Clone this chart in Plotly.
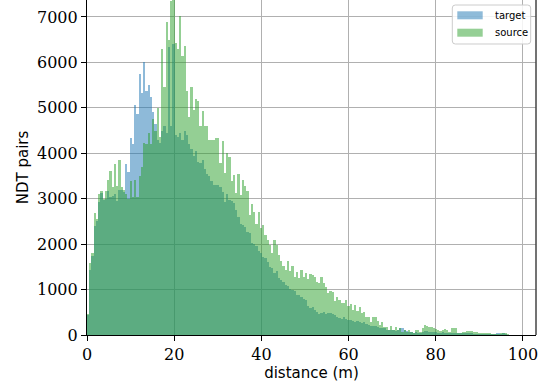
import numpy as np
import plotly.graph_objects as go

BIN_W = 0.515  # histogram bin width (m), 200 bins
N_BINS = 200

source = [
    460, 1585, 1800, 2680, 2550, 3100, 3170, 3000, 3170, 3410,
    3610, 3265, 3765, 3290, 3850, 3260, 3190, 3100, 3000, 3400,
    3040, 3410, 3040, 3500, 3705, 4220, 4200, 4440, 4200, 4750,
    4500, 5000, 4350, 6290, 5450, 6900, 6500, 7355, 7390, 6420,
    6300, 7020, 6150, 6370, 5370, 4800, 5450, 4945, 5200, 5140,
    4600, 4930, 4590, 4590, 4300, 4300, 4300, 4330, 4340, 3780,
    4270, 3570, 4000, 3925, 3380, 3530, 3130, 3540, 3080, 3415,
    3270, 3180, 2640, 2885, 2710, 2440, 2700, 2350, 2420, 2200,
    2090, 1980, 1810, 2090, 1980, 1760, 1620, 1520, 1420, 1620,
    1410, 1520, 1285, 1390, 1250, 1430, 1270, 1360, 1225, 1340,
    1320, 1280, 1175, 1150, 1270, 1150, 1050, 930, 975, 955,
    755, 840, 770, 695, 710, 770, 640, 680, 550, 660,
    535, 610, 475, 510, 390, 400, 290, 390, 390, 315,
    220, 290, 185, 170, 110, 200, 110, 170, 110, 145,
    70, 110, 70, 110, 70, 35, 110, 110, 70, 150,
    220, 200, 185, 170, 150, 125, 110, 95, 110, 125,
    110, 75, 150, 150, 150, 40, 50, 65, 75, 80,
    95, 80, 70, 60, 50, 50, 50, 40, 40, 40,
    15, 15, 10, 5, 30, 30, 30, 5, 0, 0,
    0, 0, 0, 0, 0, 0, 0, 0, 0, 0,
]

target = [
    430, 1420, 1740, 2390, 2500, 2935, 3130, 2970, 2990, 3170,
    3040, 3050, 3110, 2950, 3190, 3200, 3150, 3765, 3590, 4330,
    4205, 5060, 4865, 5745, 5325, 6000, 5370, 5500, 5245, 4915,
    4645, 4300, 4220, 4500, 4590, 4450, 6340, 4590, 6400, 4400,
    4350, 4450, 4300, 4500, 4400, 4200, 4100, 3950, 4050, 3800,
    3780, 3850, 3650, 3550, 3500, 3400, 3300, 3300, 3300, 3250,
    3150, 2935, 3100, 2970, 2950, 2900, 2750, 2600, 2450, 2420,
    2380, 2270, 2240, 2020, 2000, 1950, 1855, 1800, 1725, 1700,
    1600, 1505, 1480, 1375, 1400, 1245, 1220, 1175, 1100, 1080,
    1020, 1000, 960, 880, 880, 840, 800, 770, 640, 585,
    610, 550, 510, 455, 480, 500, 470, 480, 490, 470,
    440, 400, 380, 360, 400, 350, 330, 340, 300, 290,
    310, 280, 260, 290, 250, 220, 200, 190, 200, 170,
    160, 150, 150, 120, 110, 110, 100, 90, 110, 145,
    160, 100, 80, 70, 60, 50, 60, 50, 40, 60,
    80, 90, 70, 60, 70, 60, 50, 55, 60, 40,
    40, 45, 40, 45, 40, 30, 30, 35, 30, 25,
    30, 25, 20, 20, 15, 20, 15, 10, 10, 10,
    10, 5, 40, 40, 5, 40, 10, 0, 0, 0,
    0, 0, 0, 0, 0, 0, 0, 0, 0, 0,
]

x_ticks = [0, 20, 40, 60, 80, 100]
y_ticks = [0, 1000, 2000, 3000, 4000, 5000, 6000, 7000]

edges = np.arange(N_BINS + 1) * BIN_W
centers = (edges[:-1] + edges[1:]) / 2

BLUE = "#1f77b4"
GREEN = "#2ca02c"

fig = go.Figure()
fig.add_trace(go.Bar(x=centers, y=target, width=BIN_W, name="target",
                     marker=dict(color=BLUE, line=dict(width=0)), opacity=0.5))
fig.add_trace(go.Bar(x=centers, y=source, width=BIN_W, name="source",
                     marker=dict(color=GREEN, line=dict(width=0)), opacity=0.5))

L, R, T, B = 87, 17, 0, 57
W, H = 553, 392
PW, PH = W - L - R, H - T - B


def px(xp):
    return (xp - L) / PW


def py(yp):
    return (H - B - yp) / PH


tick_font = dict(family="DejaVu Serif", size=16, color="black")
title_font = dict(family="DejaVu Sans", size=15, color="black")

axis_common = dict(
    showgrid=True, gridcolor="#b0b0b0", gridwidth=1,
    showline=True, linecolor="black", linewidth=1.2,
    ticks="outside", ticklen=5, tickwidth=1, tickcolor="black",
    zeroline=False, layer="above traces", tickfont=tick_font,
    automargin=False,
)

fig.update_layout(
    width=W, height=H,
    margin=dict(l=L, r=R, t=T, b=B),
    plot_bgcolor="white", paper_bgcolor="white",
    barmode="overlay", bargap=0, showlegend=False,
    xaxis=dict(range=[0, 103], tickvals=x_ticks, ticktext=[str(v) for v in x_ticks],
               title=dict(text="distance (m)", font=title_font, standoff=4),
               **axis_common),
    yaxis=dict(range=[0, 7374], tickvals=y_ticks, ticktext=[str(v) for v in y_ticks],
               title=dict(text="NDT pairs", font=title_font, standoff=4),
               **axis_common),
)

shapes = []
# right spine
shapes.append(dict(type="line", xref="paper", yref="paper", x0=1, x1=1, y0=0, y1=1,
                   line=dict(color="#444444", width=1.5), layer="above"))


def rounded_rect(x0p, y0p, x1p, y1p, r=3):
    def P(xp, yp):
        return f"{px(xp):.5f},{py(yp):.5f}"
    return (f"M {P(x0p + r, y0p)} L {P(x1p - r, y0p)} Q {P(x1p, y0p)} {P(x1p, y0p + r)} "
            f"L {P(x1p, y1p - r)} Q {P(x1p, y1p)} {P(x1p - r, y1p)} "
            f"L {P(x0p + r, y1p)} Q {P(x0p, y1p)} {P(x0p, y1p - r)} "
            f"L {P(x0p, y0p + r)} Q {P(x0p, y0p)} {P(x0p + r, y0p)} Z")


shapes.append(dict(type="path", xref="paper", yref="paper",
                   path=rounded_rect(452.3, 5, 530.7, 44),
                   fillcolor="rgba(255,255,255,0.85)",
                   line=dict(color="#cccccc", width=1), layer="above"))
shapes.append(dict(type="rect", xref="paper", yref="paper",
                   x0=px(457.3), x1=px(482.7), y0=py(19.3), y1=py(11.3),
                   fillcolor=BLUE, opacity=0.5, line=dict(width=0), layer="above"))
shapes.append(dict(type="rect", xref="paper", yref="paper",
                   x0=px(457.3), x1=px(482.7), y0=py(36.7), y1=py(28.7),
                   fillcolor=GREEN, opacity=0.5, line=dict(width=0), layer="above"))
fig.update_layout(shapes=shapes)

leg_font = dict(family="DejaVu Sans", size=10, color="black")
fig.add_annotation(x=px(492.7), y=py(15.5), xref="paper", yref="paper", text="target",
                   showarrow=False, xanchor="left", yanchor="middle", font=leg_font)
fig.add_annotation(x=px(492.7), y=py(32.8), xref="paper", yref="paper", text="source",
                   showarrow=False, xanchor="left", yanchor="middle", font=leg_font)

fig.write_html("out.html", config={"displayModeBar": False},
               post_script="document.body.style.margin='0';document.body.style.padding='0';")
